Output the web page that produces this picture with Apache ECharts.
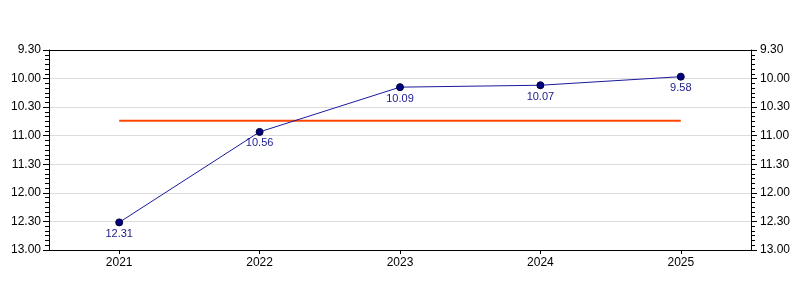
<!DOCTYPE html>
<html>
<head>
<meta charset="utf-8">
<script src="https://cdn.jsdelivr.net/npm/echarts@6/dist/echarts.min.js"></script>
<style>html,body{margin:0;padding:0;background:#fff}#c{width:800px;height:300px}</style>
</head>
<body>
<div id="c"></div>
<script>
// Categories (years)
var years = ['2021', '2022', '2023', '2024', '2025'];
// Times in seconds (12.31 = 12 min 31 s, etc.)
var times = [751, 656, 609, 607, 598];
// Reference (average) line, in seconds (~10.44)
var refLine = [644.2, 644.2, 644.2, 644.2, 644.2];
// Y axis range / step, in seconds (9.30 .. 13.00, every 0.30)
var yMin = 570, yMax = 780, yStep = 30;

function fmt(v) {
  v = Math.round(v);
  var m = Math.floor(v / 60), s = v % 60;
  return m + '.' + (s < 10 ? '0' : '') + s;
}

var font = 'Liberation Sans, Arial, sans-serif';
var yAxisCommon = {
  type: 'value', inverse: true, min: yMin, max: yMax, interval: yStep,
  axisLine: {show: true, lineStyle: {color: '#000', width: 1}},
  axisTick: {show: true, length: 6, lineStyle: {color: '#000'}},
  minorTick: {show: true, splitNumber: 6, length: 4, lineStyle: {color: '#000'}},
  axisLabel: {color: '#000', fontSize: 12, fontFamily: font, formatter: fmt}
};

var chart = echarts.init(document.getElementById('c'), null, {renderer: 'canvas'});
chart.setOption({
  animation: false,
  backgroundColor: '#fff',
  grid: {left: 49, right: 49, top: 50, bottom: 50, show: false},
  xAxis: [{
    type: 'category', data: years, boundaryGap: true,
    axisLine: {lineStyle: {color: '#000', width: 1}},
    axisTick: {show: true, alignWithLabel: true, length: 4, lineStyle: {color: '#000'}},
    axisLabel: {color: '#000', fontSize: 12, fontFamily: font, margin: 7},
    splitLine: {show: false}
  }, {
    type: 'category', data: years, position: 'top', boundaryGap: true,
    axisLine: {show: true, lineStyle: {color: '#000', width: 1}},
    axisTick: {show: false}, axisLabel: {show: false}, splitLine: {show: false}
  }],
  yAxis: [
    Object.assign({}, yAxisCommon, {position: 'left',
      splitLine: {show: true, lineStyle: {color: '#dcdcdc', width: 1}},
      axisLabel: Object.assign({}, yAxisCommon.axisLabel, {margin: 8})}),
    Object.assign({}, yAxisCommon, {position: 'right',
      splitLine: {show: false},
      axisLabel: Object.assign({}, yAxisCommon.axisLabel, {margin: 9})})
  ],
  series: [
    {
      type: 'line', data: refLine, yAxisIndex: 0, symbol: 'none',
      lineStyle: {color: '#ff4500', width: 2}, z: 2, silent: true
    },
    {
      type: 'line', data: times, yAxisIndex: 0,
      symbol: 'circle', symbolSize: 7,
      itemStyle: {color: '#000080', borderColor: '#000033', borderWidth: 1},
      lineStyle: {color: '#1a1aa0', width: 1},
      label: {show: true, position: 'bottom', distance: 2, color: '#1a1a8c', fontSize: 11, fontFamily: font, formatter: function(p){ return fmt(p.value); }},
      z: 3
    }
  ]
});
</script>
</body>
</html>
